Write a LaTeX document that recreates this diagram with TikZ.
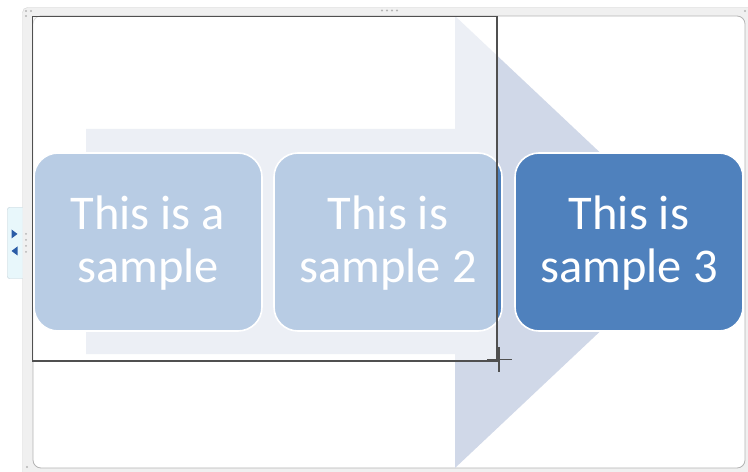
\documentclass[tikz,border=0pt]{standalone}
\usepackage{fontspec}
\newfontfamily\boxfont{Carlito}
\definecolor{accent}{HTML}{4F81BD}
\definecolor{arrowcol}{HTML}{D0D8E8}
\definecolor{framegrey}{HTML}{F0F0F0}
\definecolor{frameline}{HTML}{D2D2D2}
\definecolor{innerline}{HTML}{B4B4B4}
\definecolor{selline}{HTML}{505050}
\definecolor{tabfill}{HTML}{E8F7FB}
\definecolor{tabline}{HTML}{B8CCD6}
\definecolor{tabtri}{HTML}{2B5CA6}
\tikzset{
  blockbox/.style={draw=white, line width=1.6bp, fill=accent, rounded corners=24bp,
    minimum width=228bp, minimum height=178bp, inner sep=0pt},
  blocktext/.style={text=white, align=center, inner sep=0pt,
    font=\boxfont\fontsize{48.5bp}{53bp}\selectfont},
  griddot/.style={fill=innerline, draw=none},
}
\begin{document}
\begin{tikzpicture}[x=1bp,y=-1bp]
\useasboundingbox (0,0) rectangle (748,472);
% window frame
\fill[white] (0,0) rectangle (748,472);
\draw[frameline, fill=framegrey, rounded corners=5bp] (22.5,7.5) rectangle (760,480);
\draw[innerline, fill=white, line width=0.8bp, rounded corners=8bp] (33,16) rectangle (745,468);
% grip dots
\foreach \gx in {382,387,392,397} \fill[griddot] (\gx,10.5) circle (1.2bp);
\fill[griddot] (26,11) circle (1.2bp);
\fill[griddot] (31,11) circle (1.2bp);
\fill[griddot] (26,16) circle (1.2bp);
\fill[griddot] (27,467) circle (1.2bp);
\fill[griddot] (745,11) circle (1.2bp);
\foreach \gy in {234,240,246,252} \fill[griddot] (26,\gy) circle (1bp);
% side tab
\draw[tabline, fill=tabfill, rounded corners=2bp] (22.5,207.5) -- (7.5,207.5) -- (7.5,278.5) -- (22.5,278.5);
\fill[tabtri] (11.5,229.5) -- (17.5,234) -- (11.5,238.5) -- cycle;
\fill[tabtri] (17.5,246.5) -- (11.5,251) -- (17.5,255.5) -- cycle;
% process arrow
\fill[arrowcol] (86,129) -- (455,129) -- (455,16) -- (695,242) -- (455,468) -- (455,354) -- (86,354) -- cycle;
% blocks
\node[blockbox] (b1) at (148,242) {};
\node[blockbox] (b2) at (388,242) {};
\node[blockbox] (b3) at (629,242) {};
% selection overlay
\fill[white, opacity=0.6] (32.5,16.5) rectangle (497,361);
\draw[selline, line width=1.1bp] (32.5,16.5) rectangle (497,361);
% texts
\node[blocktext] (t1) at ([yshift=-1bp]b1.center) {This is a\\sample};
\node[blocktext] (t2) at ([yshift=-1bp]b2.center) {This is\\sample 2};
\node[blocktext] (t3) at ([yshift=-1bp]b3.center) {This is\\sample 3};
% cursor
\coordinate (cur) at (499,359.5);
\draw[selline, line width=1.6bp] ([xshift=-12bp]cur) -- ([xshift=13bp]cur);
\draw[selline, line width=1.6bp] ([yshift=-12bp]cur) -- ([yshift=12bp]cur);
\end{tikzpicture}
\end{document}
